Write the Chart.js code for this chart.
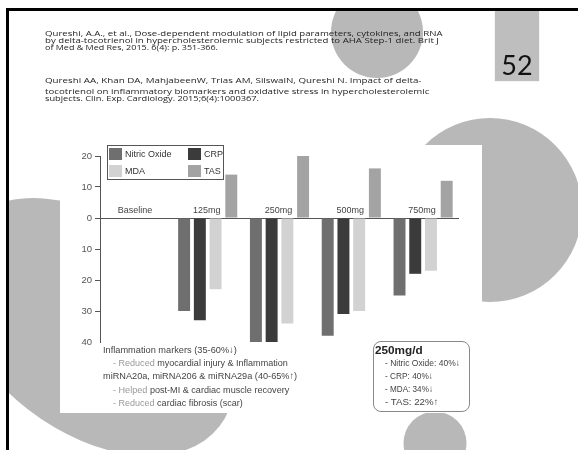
<!DOCTYPE html>
<html>
<head>
<meta charset="utf-8">
<script src="https://cdn.jsdelivr.net/npm/chart.js@4.4.1/dist/chart.umd.min.js"></script>
<style>
  body { margin: 0; background: #fff; }
  #page { position: relative; width: 578px; height: 450px; overflow: hidden; background: #fff; }
  #bg { position: absolute; left: 0; top: 0; }
  #img { position: absolute; left: 60px; top: 145px; width: 422px; height: 268px; background: #fff; }
  #chart { position: absolute; left: 0; top: 0; }
  .ln { position: absolute; white-space: nowrap; line-height: 10px; transform-origin: left center; }
  .cite { font-family: "Open Sans", "DejaVu Sans", sans-serif; font-size: 8px; color: #1e1e1e; }
  .note { font-family: "Liberation Sans", Arial, sans-serif; font-size: 9.5px; color: #444; }
  .lt { color: #999; }
  #box { position: absolute; left: 373px; top: 341px; width: 95px; height: 69px; border: 1px solid #888; border-radius: 8px; }
  #num { position: absolute; left: 495px; top: 11px; width: 44px; height: 69px; background: #bebebe;
         box-shadow: 0 1px 1px rgba(0,0,0,0.25); font-family: Lato, "Open Sans", sans-serif; font-size: 27px;
         color: #111; text-align: center; line-height: 27px; }
  #num span { position: absolute; left: 0; right: 0; top: 40px; }
</style>
</head>
<body>
<div id="page">
  <canvas id="bg" width="578" height="450"></canvas>

  <div class="ln cite" data-w="397" style="left:45px;top:28px">Qureshi, A.A., et al., Dose-dependent modulation of lipid parameters, cytokines, and RNA</div>
  <div class="ln cite" data-w="394" style="left:45px;top:35px">by delta-tocotrienol in hypercholesterolemic subjects restricted to AHA Step-1 diet. Brit J</div>
  <div class="ln cite" data-w="173" style="left:45px;top:42px">of Med &amp; Med Res, 2015. 6(4): p. 351-366.</div>
  <div class="ln cite" data-w="377" style="left:45px;top:75px">Qureshi AA, Khan DA, MahjabeenW, Trias AM, SilswalN, Qureshi N. Impact of delta-</div>
  <div class="ln cite" data-w="385" style="left:45px;top:86px">tocotrienol on inflammatory biomarkers and oxidative stress in hypercholesterolemic</div>
  <div class="ln cite" data-w="214" style="left:45px;top:93px">subjects. Clin. Exp. Cardiology. 2015;6(4):1000367.</div>

  <div id="num"><span>52</span></div>

  <div id="img">
    <canvas id="chart" width="422" height="268"></canvas>
  </div>

  <div class="ln note" data-w="134" style="left:103px;top:345px">Inflammation markers (35-60%↓)</div>
  <div class="ln note" data-w="175" style="left:113px;top:358px"><span class="lt">- Reduced</span> myocardial injury &amp; Inflammation</div>
  <div class="ln note" data-w="194" style="left:103px;top:371px">miRNA20a, miRNA206 &amp; miRNA29a (40-65%↑)</div>
  <div class="ln note" data-w="176" style="left:113px;top:385px"><span class="lt">- Helped</span> post-MI &amp; cardiac muscle recovery</div>
  <div class="ln note" data-w="130" style="left:113px;top:398px"><span class="lt">- Reduced</span> cardiac fibrosis (scar)</div>

  <div id="box"></div>
  <div class="ln note" data-w="48" style="left:375px;top:345px;font-weight:bold;font-size:11.5px;color:#222">250mg/d</div>
  <div class="ln note" data-w="75" style="left:385px;top:358px">- Nitric Oxide: 40%↓</div>
  <div class="ln note" data-w="48" style="left:385px;top:371px">- CRP: 40%↓</div>
  <div class="ln note" data-w="48" style="left:385px;top:384px">- MDA: 34%↓</div>
  <div class="ln note" data-w="53" style="left:385px;top:397px">- TAS: 22%↑</div>
</div>

<script>
// ---- data ----
const categories = ['Baseline', '125mg', '250mg', '500mg', '750mg'];
const seriesLabels = ['Nitric Oxide', 'CRP', 'MDA', 'TAS'];
const nitricOxide = [null, -30, -40, -38, -25];
const crp = [null, -33, -40, -31, -18];
const mda = [null, -23, -34, -30, -17];
const tas = [null, 14, 22, 16, 12];
const yMin = -40;
const yMax = 20;
const yStep = 10;

const seriesColors = ['#6f6f6f', '#3b3b3b', '#d2d2d2', '#a3a3a3'];
const CHART_FONT = '"Liberation Sans", Arial, sans-serif';

// ---- slide decoration ----
const bg = document.getElementById('bg').getContext('2d');
bg.save();
bg.beginPath();
bg.rect(8, 11, 570, 439);
bg.clip();
bg.fillStyle = '#b8b8b8';
bg.beginPath(); bg.arc(377, 32, 46, 0, Math.PI * 2); bg.fill();
bg.beginPath(); bg.arc(490, 210, 92, 0, Math.PI * 2); bg.fill();
bg.beginPath(); bg.arc(435, 443, 31.5, 0, Math.PI * 2); bg.fill();
bg.beginPath(); bg.ellipse(91.5, 327, 162, 104, 0.66, 0, Math.PI * 2); bg.fill();
bg.restore();
bg.fillStyle = '#000';
bg.fillRect(6, 8, 3, 442);
bg.fillRect(6, 8, 572, 3);

// fit text lines to measured widths
document.querySelectorAll('.ln[data-w]').forEach(el => {
    const w = parseFloat(el.dataset.w);
    el.style.transform = 'scaleX(' + (w / el.offsetWidth) + ')';
});

// ---- plugins ----
const groupLabels = {
    id: 'groupLabels',
    afterDatasetsDraw(chart) {
        const { ctx, scales: { x, y } } = chart;
        const y0 = y.getPixelForValue(0);
        ctx.save();
        ctx.font = '9px ' + CHART_FONT;
        ctx.fillStyle = '#444';
        ctx.textAlign = 'center';
        ctx.textBaseline = 'alphabetic';
        categories.forEach((c, i) => ctx.fillText(c, x.getPixelForValue(i) - 1, y0 - 5));
        ctx.restore();
    }
};

const boxLegend = {
    id: 'boxLegend',
    afterDraw(chart) {
        const { ctx, chartArea } = chart;
        const bx = chartArea.left + 7;
        const by = 0;
        ctx.save();
        ctx.strokeStyle = '#555';
        ctx.lineWidth = 1;
        ctx.strokeRect(bx + 0.5, by + 0.5, 116, 34);
        ctx.font = '9px ' + CHART_FONT;
        ctx.textBaseline = 'middle';
        chart.data.datasets.forEach((ds, i) => {
            const col = i % 2;
            const row = Math.floor(i / 2);
            const sx = bx + 2 + col * 79;
            const sy = by + 3 + row * 17;
            ctx.fillStyle = ds.backgroundColor;
            ctx.fillRect(sx, sy, 13, 12);
            ctx.fillStyle = '#333';
            ctx.fillText(ds.label, sx + 16, sy + 6.5);
        });
        ctx.restore();
    }
};

// ---- chart ----
const series = [nitricOxide, crp, mda, tas];
new Chart(document.getElementById('chart'), {
    type: 'bar',
    data: {
        labels: categories,
        datasets: series.map((values, i) => ({
            label: seriesLabels[i],
            data: values,
            backgroundColor: seriesColors[i],
            borderWidth: 0,
            categoryPercentage: 0.876,
            barPercentage: 0.76,
        }))
    },
    options: {
        responsive: false,
        animation: false,
        layout: { padding: { top: 11, right: 23, bottom: 71, left: 0 } },
        plugins: {
            legend: { display: false },
            tooltip: { enabled: false },
        },
        scales: {
            x: { display: false },
            y: {
                min: yMin,
                max: yMax,
                afterFit: (scale) => { scale.width = 40; },
                ticks: {
                    stepSize: yStep,
                    padding: 3,
                    color: '#555',
                    font: { family: CHART_FONT, size: 9.5 },
                    callback: (v) => Math.abs(v),
                },
                grid: {
                    color: (c) => (c.tick && c.tick.value === 0 ? '#555' : 'rgba(0,0,0,0)'),
                    tickColor: (c) => (c.tick && c.tick.value === yMin ? 'rgba(0,0,0,0)' : '#555'),
                    tickLength: 5,
                    lineWidth: 1,
                },
                border: { display: true, color: '#555', width: 1 },
            }
        }
    },
    plugins: [groupLabels, boxLegend]
});
</script>
</body>
</html>
